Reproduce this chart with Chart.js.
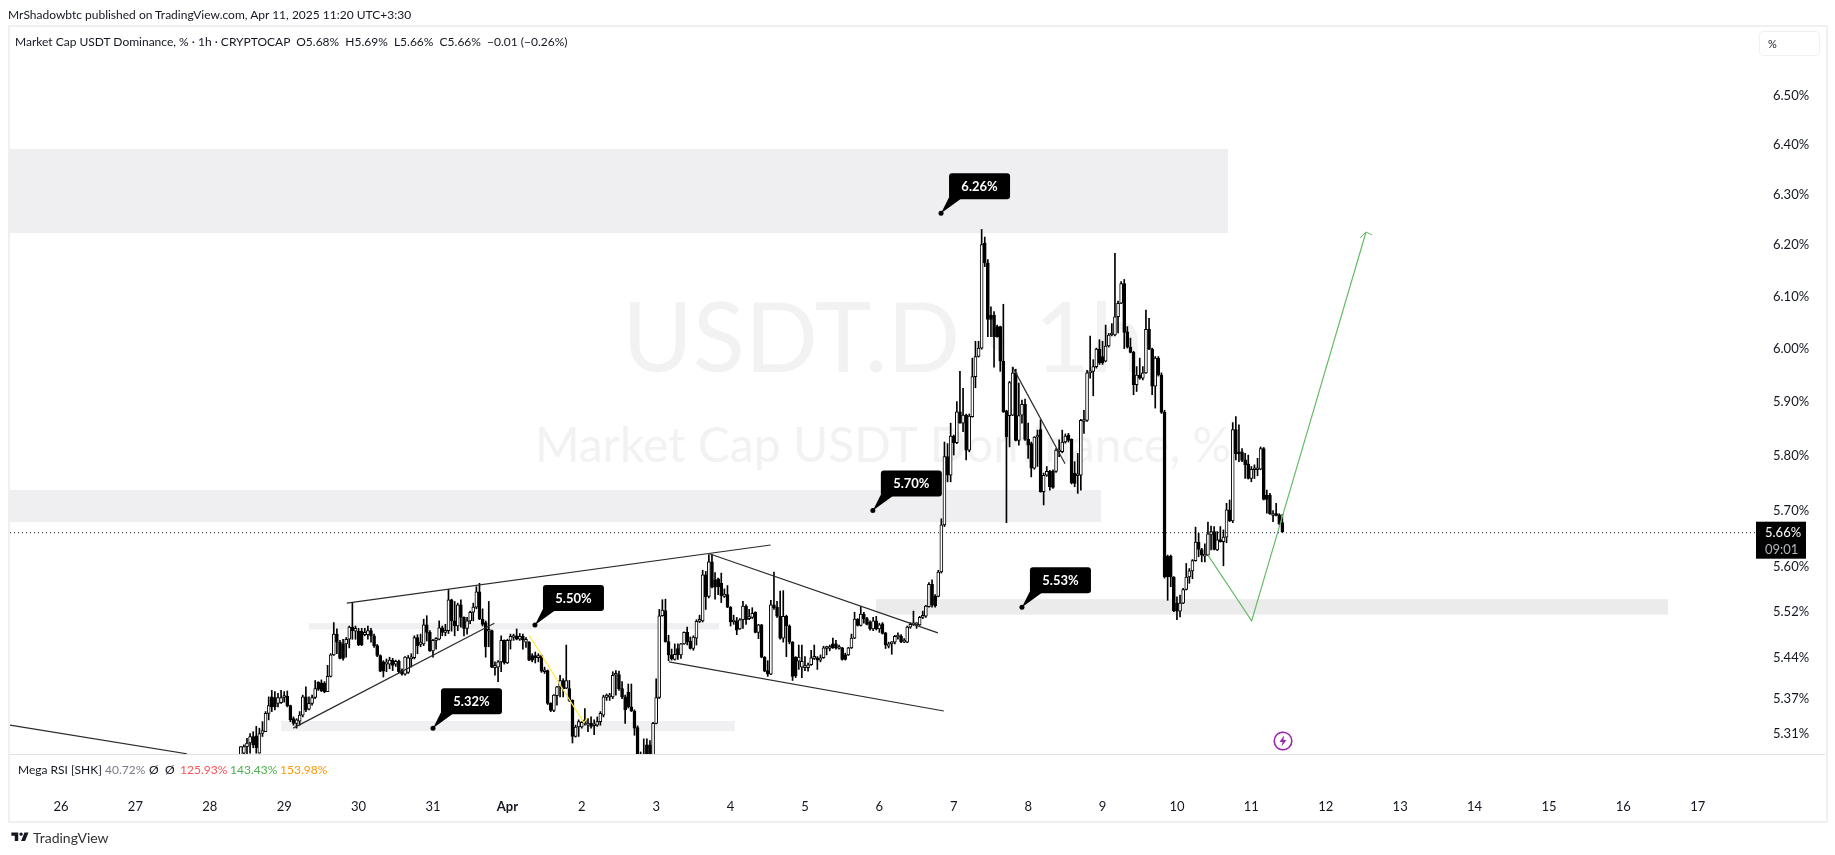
<!DOCTYPE html>
<html>
<head>
<meta charset="utf-8">
<title>USDT.D</title>
<script src="https://cdn.jsdelivr.net/npm/chart.js@4"></script>
<style>
    html, body { margin: 0; padding: 0; background: #fff; overflow: hidden; }
    body { width: 1835px; height: 855px; position: relative; font-family: "Lato", sans-serif; color: #131722; }
    canvas { position: absolute; left: 0; top: 0; }
    .txt { position: absolute; white-space: pre; font-size: 12px; line-height: 14px; }
    .frame { position: absolute; left: 8px; top: 25px; width: 1816px; height: 794px; border: 2px solid #f0f0f3; }
    .sep { position: absolute; left: 10px; top: 754px; width: 1815px; height: 1px; background: #e0e0e8; }
    .unit { position: absolute; left: 1759px; top: 31px; width: 61px; height: 25px; border: 1px solid #f0f0f3; border-radius: 4px; box-sizing: border-box; }
</style>
</head>
<body>
<canvas id="chart" width="1835" height="855"></canvas>
<div class="frame"></div>
<div class="sep"></div>
<div class="unit"></div>
<div class="txt" style="left:8px;top:8px">MrShadowbtc published on TradingView.com, Apr 11, 2025 11:20 UTC+3:30</div>
<div class="txt" style="left:15px;top:35px">Market Cap USDT Dominance, % · 1h · CRYPTOCAP  O5.68%  H5.69%  L5.66%  C5.66%  −0.01 (−0.26%)</div>
<div class="txt" style="left:1768px;top:37px;font-size:11px">%</div>
<div class="txt" style="left:18px;top:763px">Mega RSI [SHK]</div>
<div class="txt" style="left:105px;top:763px;color:#787b86">40.72%</div>
<div class="txt" style="left:149px;top:763px">Ø</div>
<div class="txt" style="left:165px;top:763px">Ø</div>
<div class="txt" style="left:180px;top:763px;color:#ff5252">125.93%</div>
<div class="txt" style="left:230px;top:763px;color:#4caf50">143.43%</div>
<div class="txt" style="left:280px;top:763px;color:#ff9800">153.98%</div>
<svg style="position:absolute;left:10px;top:829px" width="21" height="16" viewBox="0 0 36 28">
    <path fill="#131722" d="M14 6H2v6h6v9h6V6Zm12 15h-7l6-15h7l-6 15Zm-7-9a3 3 0 1 0 0-6 3 3 0 0 0 0 6Z"/>
</svg>
<div class="txt" style="left:33px;top:830px;font-size:14px;line-height:16px;color:#333">TradingView</div>
<svg style="position:absolute;left:1273px;top:731px" width="20" height="20" viewBox="0 0 20 20">
    <circle cx="10" cy="10" r="8.8" fill="#fff" stroke="#9c27b0" stroke-width="1.6"/>
    <path fill="#9c27b0" d="M11 4.5 6.5 11h3l-1 4.5L13.5 9h-3Z"/>
</svg>
<script>
    // candles start at this hour, counted from 26 Mar 00:00
    const firstCandleHour = 58;

    const candleOpens = [
        5.267,5.278,5.289,5.295,5.306,5.307,5.278,5.311,5.314,5.345,
        5.373,5.372,5.362,5.363,5.372,5.374,5.358,5.336,5.328,5.332,
        5.342,5.373,5.352,5.362,5.372,5.398,5.397,5.396,5.382,5.408,
        5.445,5.481,5.467,5.464,5.464,5.472,5.493,5.486,5.486,5.486,
        5.480,5.480,5.487,5.478,5.461,5.444,5.433,5.429,5.429,5.436,
        5.429,5.434,5.418,5.412,5.415,5.438,5.440,5.475,5.463,5.464,
        5.497,5.484,5.452,5.470,5.472,5.492,5.484,5.487,5.541,5.504,
        5.495,5.532,5.510,5.491,5.504,5.519,5.528,5.555,5.507,5.501,
        5.486,5.487,5.423,5.424,5.433,5.470,5.431,5.470,5.475,5.478,
        5.472,5.477,5.467,5.467,5.444,5.444,5.440,5.444,5.416,5.418,
        5.362,5.350,5.375,5.390,5.401,5.388,5.387,5.367,5.306,5.322,
        5.322,5.334,5.325,5.328,5.324,5.325,5.331,5.342,5.372,5.373,
        5.373,5.410,5.411,5.387,5.373,
        5.381,5.356,5.349,5.321,5.275,5.259,5.292,5.292,5.270,5.328,
        5.372,5.513,5.522,5.468,5.445,5.437,5.456,5.445,5.464,5.484,
        5.469,5.456,5.474,5.503,5.504,5.585,5.547,5.608,5.576,5.578,
        5.570,5.547,5.550,5.528,5.502,5.504,5.490,5.506,5.530,5.508,
        5.510,5.519,5.484,5.497,5.441,5.418,5.412,5.532,5.528,5.512,
        5.474,5.512,5.495,5.467,5.441,5.434,5.424,5.423,5.423,5.428,
        5.439,5.440,5.436,5.440,5.456,5.456,5.464,5.464,5.456,5.457,
        5.445,5.445,5.457,5.474,5.507,5.496,5.516,5.508,5.502,5.490,
        5.504,5.490,5.499,5.483,5.460,5.464,5.467,5.476,5.477,5.467,
        5.467,5.493,5.497,5.497,5.497,5.510,5.512,5.529,5.568,5.547,
        5.547,5.590,
        5.674,5.798,5.764,5.836,5.824,5.881,5.860,5.875,5.810,5.872,
        5.947,5.985,6.001,6.204,6.165,6.064,6.064,6.042,6.042,5.976,
        5.883,5.874,5.875,5.954,5.828,5.875,5.895,5.830,5.822,5.777,
        5.834,5.848,5.734,5.764,5.771,5.771,5.771,5.807,5.807,5.825,
        5.838,5.830,5.768,5.763,5.764,5.863,5.865,5.954,5.957,5.966,
        5.999,5.985,5.976,6.005,6.026,6.026,6.061,6.087,6.125,6.032,
        6.003,5.993,5.932,5.950,5.944,5.954,6.037,5.999,5.929,5.982,
        5.950,
        5.880,5.618,5.618,5.581,5.535,5.521,5.535,5.559,5.581,5.592,
        5.610,5.643,5.630,5.618,5.620,5.656,5.662,5.629,5.647,5.644,
        5.652,5.701,5.681,5.848,5.807,5.807,5.792,5.785,5.758,5.774,
        5.774,5.775,5.813,5.728,5.728,5.691,5.692,5.692,5.678
    ];
    const candleHighs = [
        5.289,5.292,5.303,5.311,5.314,5.323,5.320,5.331,5.348,5.373,
        5.384,5.382,5.379,5.384,5.382,5.383,5.359,5.339,5.336,5.348,
        5.376,5.390,5.373,5.376,5.401,5.399,5.402,5.399,5.427,5.447,
        5.501,5.490,5.470,5.472,5.475,5.495,5.535,5.495,5.491,5.491,
        5.491,5.495,5.491,5.481,5.463,5.445,5.435,5.438,5.441,5.439,
        5.436,5.436,5.421,5.442,5.444,5.447,5.478,5.480,5.481,5.507,
        5.513,5.487,5.472,5.475,5.504,5.495,5.498,5.559,5.542,5.538,
        5.535,5.541,5.511,5.510,5.521,5.535,5.564,5.570,5.525,5.504,
        5.538,5.488,5.433,5.435,5.478,5.471,5.472,5.481,5.481,5.490,
        5.482,5.481,5.475,5.468,5.447,5.450,5.447,5.445,5.424,5.419,
        5.363,5.377,5.391,5.410,5.404,5.462,5.401,5.368,5.325,5.334,
        5.331,5.353,5.336,5.339,5.334,5.339,5.348,5.376,5.378,5.379,
        5.416,5.418,5.417,5.399,5.376,
        5.395,5.395,5.351,5.324,5.280,5.302,5.302,5.299,5.330,5.404,
        5.524,5.541,5.542,5.479,5.455,5.464,5.464,5.465,5.485,5.493,
        5.476,5.478,5.506,5.514,5.593,5.591,5.621,5.621,5.589,5.579,
        5.588,5.560,5.566,5.529,5.514,5.510,5.508,5.538,5.532,5.524,
        5.527,5.520,5.498,5.498,5.442,5.435,5.540,5.590,5.538,5.556,
        5.557,5.514,5.497,5.468,5.442,5.462,5.462,5.442,5.431,5.453,
        5.462,5.442,5.445,5.460,5.460,5.462,5.474,5.470,5.462,5.458,
        5.448,5.458,5.481,5.519,5.508,5.529,5.519,5.510,5.504,5.510,
        5.512,5.500,5.501,5.484,5.467,5.468,5.479,5.483,5.480,5.473,
        5.495,5.501,5.521,5.501,5.512,5.521,5.531,5.571,5.576,5.550,
        5.593,5.685,
        5.825,5.822,5.860,5.838,5.900,5.957,5.925,5.877,5.877,5.982,
        6.014,6.014,6.231,6.216,6.172,6.080,6.071,6.045,6.043,6.085,
        5.884,5.938,5.965,5.961,5.935,5.903,5.905,5.860,5.825,5.835,
        5.847,5.866,5.768,5.780,5.773,5.774,5.813,5.829,5.847,5.840,
        5.841,5.831,5.789,5.804,5.867,5.884,5.959,6.024,5.979,6.001,
        6.017,6.014,6.045,6.029,6.048,6.184,6.091,6.129,6.133,6.042,
        6.020,5.995,5.966,5.982,5.966,6.074,6.058,6.001,5.985,5.985,
        5.954,
        5.884,5.620,5.620,5.582,5.546,5.549,5.561,5.605,5.596,5.612,
        5.670,5.659,5.632,5.640,5.679,5.672,5.671,5.662,5.671,5.665,
        5.713,5.719,5.861,5.872,5.857,5.813,5.804,5.801,5.780,5.783,
        5.795,5.816,5.815,5.737,5.731,5.700,5.713,5.694,5.693
    ];
    const candleLows = [
        5.261,5.261,5.272,5.278,5.287,5.278,5.278,5.306,5.314,5.334,
        5.348,5.351,5.356,5.362,5.364,5.356,5.331,5.325,5.320,5.325,
        5.339,5.348,5.351,5.359,5.370,5.384,5.382,5.380,5.382,5.407,
        5.444,5.447,5.438,5.436,5.441,5.457,5.472,5.472,5.461,5.461,
        5.478,5.472,5.467,5.458,5.442,5.416,5.407,5.416,5.421,5.418,
        5.425,5.414,5.410,5.410,5.413,5.424,5.438,5.447,5.459,5.461,
        5.469,5.451,5.441,5.455,5.471,5.478,5.478,5.482,5.486,5.478,
        5.487,5.493,5.478,5.481,5.499,5.504,5.525,5.506,5.495,5.441,
        5.459,5.423,5.410,5.399,5.416,5.429,5.430,5.455,5.470,5.471,
        5.470,5.455,5.458,5.435,5.433,5.431,5.433,5.415,5.413,5.360,
        5.348,5.348,5.359,5.373,5.373,5.387,5.365,5.295,5.305,5.306,
        5.320,5.325,5.314,5.320,5.309,5.323,5.325,5.339,5.367,5.367,
        5.370,5.376,5.384,5.370,5.328,
        5.354,5.348,5.308,5.270,5.248,5.256,5.270,5.264,5.268,5.327,
        5.370,5.512,5.467,5.435,5.436,5.436,5.437,5.439,5.463,5.462,
        5.455,5.453,5.462,5.501,5.502,5.524,5.544,5.562,5.542,5.550,
        5.536,5.545,5.527,5.495,5.498,5.480,5.489,5.491,5.498,5.506,
        5.508,5.483,5.473,5.440,5.416,5.408,5.411,5.524,5.510,5.472,
        5.467,5.442,5.464,5.401,5.406,5.420,5.406,5.418,5.417,5.427,
        5.437,5.420,5.433,5.439,5.445,5.452,5.456,5.455,5.455,5.436,
        5.436,5.444,5.456,5.473,5.495,5.495,5.500,5.497,5.488,5.487,
        5.488,5.484,5.481,5.456,5.457,5.446,5.464,5.472,5.466,5.466,
        5.466,5.491,5.496,5.491,5.496,5.508,5.510,5.528,5.528,5.528,
        5.546,5.588,
        5.671,5.752,5.752,5.801,5.822,5.860,5.844,5.792,5.807,5.871,
        5.926,5.984,5.999,6.158,6.023,6.023,5.965,6.022,5.957,5.880,
        5.678,5.816,5.874,5.827,5.819,5.860,5.828,5.795,5.761,5.775,
        5.780,5.733,5.710,5.762,5.737,5.740,5.769,5.798,5.805,5.823,
        5.825,5.748,5.743,5.731,5.737,5.841,5.863,5.944,5.911,5.963,
        5.970,5.970,5.975,6.003,6.024,6.024,6.030,6.086,6.000,6.001,
        5.992,5.913,5.919,5.942,5.941,5.953,5.998,5.913,5.888,5.948,
        5.878,
        5.579,5.540,5.564,5.520,5.506,5.511,5.534,5.558,5.570,5.578,
        5.609,5.617,5.608,5.608,5.619,5.629,5.629,5.628,5.643,5.601,
        5.642,5.680,5.678,5.792,5.789,5.789,5.758,5.757,5.752,5.758,
        5.763,5.774,5.719,5.695,5.693,5.680,5.690,5.674,5.660
    ];
    const candleCloses = [
        5.289,5.289,5.295,5.306,5.292,5.287,5.311,5.316,5.345,5.358,
        5.356,5.356,5.372,5.372,5.374,5.358,5.334,5.328,5.334,5.342,
        5.373,5.351,5.362,5.372,5.387,5.386,5.383,5.382,5.408,5.445,
        5.481,5.467,5.439,5.439,5.472,5.493,5.487,5.491,5.462,5.462,
        5.484,5.487,5.478,5.461,5.444,5.417,5.417,5.433,5.436,5.427,
        5.434,5.416,5.412,5.441,5.440,5.441,5.475,5.461,5.467,5.497,
        5.484,5.452,5.470,5.472,5.492,5.484,5.487,5.541,5.504,5.495,
        5.532,5.510,5.491,5.504,5.519,5.528,5.555,5.507,5.498,5.459,
        5.487,5.424,5.427,5.433,5.470,5.431,5.470,5.477,5.478,5.472,
        5.477,5.471,5.472,5.436,5.436,5.440,5.444,5.417,5.418,5.362,
        5.350,5.376,5.390,5.401,5.387,5.401,5.367,5.306,5.322,5.331,
        5.330,5.328,5.328,5.323,5.327,5.331,5.345,5.373,5.376,5.376,
        5.410,5.411,5.387,5.373,5.351,
        5.356,5.349,5.320,5.275,5.259,5.275,5.275,5.270,5.328,5.372,
        5.513,5.523,5.468,5.445,5.438,5.446,5.445,5.464,5.484,5.468,
        5.456,5.476,5.503,5.506,5.585,5.546,5.608,5.563,5.563,5.564,
        5.548,5.551,5.528,5.502,5.504,5.488,5.506,5.530,5.506,5.510,
        5.517,5.484,5.497,5.441,5.417,5.412,5.532,5.527,5.512,5.474,
        5.512,5.495,5.467,5.408,5.409,5.441,5.434,5.425,5.428,5.440,
        5.440,5.436,5.440,5.457,5.457,5.457,5.457,5.457,5.457,5.437,
        5.437,5.457,5.474,5.507,5.496,5.516,5.508,5.498,5.490,5.504,
        5.490,5.497,5.482,5.462,5.464,5.467,5.477,5.478,5.468,5.468,
        5.493,5.498,5.499,5.498,5.510,5.512,5.530,5.568,5.532,5.530,
        5.590,5.674,
        5.798,5.764,5.836,5.824,5.881,5.860,5.875,5.810,5.873,5.947,
        5.985,6.001,6.201,6.165,6.056,6.056,6.023,6.023,5.976,5.881,
        5.835,5.936,5.954,5.828,5.874,5.895,5.830,5.819,5.777,5.834,
        5.835,5.734,5.764,5.771,5.743,5.742,5.810,5.810,5.825,5.836,
        5.828,5.750,5.749,5.764,5.865,5.865,5.954,5.957,5.966,5.999,
        5.973,5.973,6.005,6.026,6.028,6.061,6.087,6.125,6.031,6.003,
        5.993,5.932,5.950,5.944,5.954,6.037,5.999,5.929,5.982,5.950,
        5.880,
        5.581,5.581,5.581,5.522,5.521,5.535,5.559,5.581,5.592,5.610,
        5.643,5.630,5.620,5.620,5.658,5.662,5.630,5.647,5.644,5.652,
        5.701,5.681,5.848,5.803,5.803,5.791,5.783,5.758,5.775,5.776,
        5.775,5.813,5.720,5.720,5.694,5.694,5.691,5.676,5.662
    ];

    const priceTicks = [6.5, 6.4, 6.3, 6.2, 6.1, 6.0, 5.9, 5.8, 5.7, 5.6, 5.52, 5.44, 5.37, 5.31];
    const priceTickLabels = ["6.50%", "6.40%", "6.30%", "6.20%", "6.10%", "6.00%", "5.90%", "5.80%", "5.70%", "5.60%", "5.52%", "5.44%", "5.37%", "5.31%"];
    const dayLabels = ["26", "27", "28", "29", "30", "31", "Apr", "2", "3", "4", "5", "6", "7", "8", "9", "10", "11", "12", "13", "14", "15", "16", "17"];
    const dayTickHours = [0, 24, 48, 72, 96, 120, 144, 168, 192, 216, 240, 264, 288, 312, 336, 360, 384, 408, 432, 456, 480, 504, 528];

    const hourMin = -16.45;
    const hourMax = 546.8;
    const priceMin = 5.2766;
    const priceMax = 6.646;
    const lastPrice = 5.66;

    // grey supply / demand boxes
    const zoneStartHours = [-16.45, -16.45, 262.9, 80, 71];
    const zoneEndHours = [376.5, 335.5, 518.4, 212.3, 217.4];
    const zoneTops = [6.392, 5.737, 5.542, 5.5, 5.332];
    const zoneBottoms = [6.224, 5.679, 5.515, 5.489, 5.315];
    const zoneColors = ["#efeff1", "#efeff1", "#ebebeb", "#f0f0f2", "#f0f0f2"];

    // drawn trend lines, [hour, price] pairs
    const blackLines = [
        [[-16.45, 5.325], [40.6, 5.277]],
        [[92.2, 5.535], [228.9, 5.638]],
        [[74.9, 5.32], [139.8, 5.5]],
        [[209.4, 5.622], [282.9, 5.483]],
        [[196.1, 5.433], [284.8, 5.349]],
        [[307, 5.965], [323.9, 5.785]]
    ];
    const yellowLine = [[151, 5.479], [168.7, 5.329], [169.7, 5.337]];
    const greenLine = [[370, 5.62], [384.1, 5.504], [421, 6.226]];

    // price callouts
    const calloutHours = [283.9, 261.9, 310, 152.9, 120];
    const calloutPrices = [6.263, 5.7, 5.528, 5.497, 5.32];
    const calloutLabels = ["6.26%", "5.70%", "5.53%", "5.50%", "5.32%"];

    const uiFont = "Lato, sans-serif";

    let wickData = candleOpens.map((o, i) => ({ x: firstCandleHour + i, y: [candleLows[i], candleHighs[i]] }));
    let bodyData = candleOpens.map((o, i) => ({ x: firstCandleHour + i, y: [o, candleCloses[i]] }));
    let bodyColors = candleOpens.map((o, i) => (candleCloses[i] >= o ? "#ffffff" : "#000000"));

    function lineDataset(points, color, width, dash) {
        return {
            type: "line",
            data: points.map(([x, y]) => ({ x, y })),
            borderColor: color,
            borderWidth: width,
            borderDash: dash || [],
            pointRadius: 0,
            tension: 0,
            order: 0,
        };
    }

    function roundedBox(ctx, x, y, w, h, r) {
        ctx.beginPath();
        ctx.roundRect(x, y, w, h, r);
        ctx.fill();
    }

    const backdropPlugin = {
        id: "backdrop",
        beforeDatasetsDraw(chart) {
            let { ctx, chartArea, scales } = chart;
            ctx.save();
            ctx.beginPath();
            ctx.rect(chartArea.left, chartArea.top, chartArea.width, chartArea.height);
            ctx.clip();

            ctx.fillStyle = "#f2f2f3";
            ctx.textAlign = "center";
            ctx.textBaseline = "middle";
            ctx.font = "96px " + uiFont;
            ctx.fillText("USDT.D · 1h", 883, 341);
            ctx.font = "48px " + uiFont;
            ctx.fillText("Market Cap USDT Dominance, %", 883, 447);

            zoneStartHours.forEach((start, i) => {
                let x1 = scales.x.getPixelForValue(start);
                let x2 = scales.x.getPixelForValue(zoneEndHours[i]);
                let y1 = scales.y.getPixelForValue(zoneTops[i]);
                let y2 = scales.y.getPixelForValue(zoneBottoms[i]);
                ctx.fillStyle = zoneColors[i];
                ctx.fillRect(x1, y1, x2 - x1, y2 - y1);
            });
            ctx.restore();
        },
    };

    const overlayPlugin = {
        id: "overlay",
        afterDraw(chart) {
            let { ctx, scales } = chart;
            ctx.save();

            // arrow head on the green projection
            let tip = greenLine[greenLine.length - 1];
            let tipX = scales.x.getPixelForValue(tip[0]);
            let tipY = scales.y.getPixelForValue(tip[1]);
            ctx.strokeStyle = "#66bb6a";
            ctx.lineWidth = 1;
            ctx.beginPath();
            ctx.moveTo(tipX - 6, tipY + 6);
            ctx.lineTo(tipX, tipY);
            ctx.lineTo(tipX + 6, tipY + 3);
            ctx.stroke();

            // callouts
            calloutLabels.forEach((label, i) => {
                let x = scales.x.getPixelForValue(calloutHours[i]);
                let y = scales.y.getPixelForValue(calloutPrices[i]);
                ctx.fillStyle = "#000";
                ctx.beginPath();
                ctx.arc(x, y, 2.5, 0, Math.PI * 2);
                ctx.fill();
                ctx.beginPath();
                ctx.moveTo(x, y);
                ctx.lineTo(x + 8, y - 16);
                ctx.lineTo(x + 22, y - 16);
                ctx.closePath();
                ctx.fill();
                roundedBox(ctx, x + 8, y - 40, 61, 26, 3);
                ctx.fillStyle = "#fff";
                ctx.font = "bold 13px " + uiFont;
                ctx.textAlign = "center";
                ctx.textBaseline = "middle";
                ctx.fillText(label, x + 38.5, y - 26.5);
            });

            // last price tag on the axis
            let tagY = scales.y.getPixelForValue(lastPrice);
            ctx.fillStyle = "#000";
            ctx.fillRect(1756, tagY - 11, 50, 37);
            ctx.textAlign = "left";
            ctx.textBaseline = "middle";
            ctx.font = "13px " + uiFont;
            ctx.fillStyle = "#fff";
            ctx.fillText("5.66%", 1765, tagY);
            ctx.fillStyle = "#b2b5be";
            ctx.fillText("09:01", 1765, tagY + 17);
            ctx.restore();
        },
    };

    new Chart(document.getElementById("chart"), {
        type: "bar",
        plugins: [backdropPlugin, overlayPlugin],
        data: {
            datasets: [
                lineDataset([[hourMin, lastPrice], [hourMax, lastPrice]], "#131722", 1, [1, 3]),
                ...blackLines.map((points) => lineDataset(points, "#2a2a2a", 1.2)),
                lineDataset(yellowLine, "#ffeb3b", 1.2),
                lineDataset(greenLine, "#66bb6a", 1.2),
                {
                    data: bodyData,
                    backgroundColor: bodyColors,
                    borderColor: "#000000",
                    borderWidth: 1,
                    borderSkipped: false,
                    barThickness: 3,
                    minBarLength: 2,
                    grouped: false,
                    order: 1,
                },
                {
                    data: wickData,
                    backgroundColor: "#000000",
                    borderWidth: 0,
                    barThickness: 1,
                    grouped: false,
                    order: 2,
                },
            ],
        },
        options: {
            responsive: false,
            animation: false,
            devicePixelRatio: 1,
            layout: { padding: { left: 10, top: 26, right: 10, bottom: 35 } },
            plugins: { legend: { display: false }, tooltip: { enabled: false }, title: { display: false } },
            scales: {
                x: {
                    type: "linear",
                    offset: false,
                    min: hourMin,
                    max: hourMax,
                    grid: { display: false },
                    border: { display: false },
                    afterBuildTicks(scale) {
                        scale.ticks = dayTickHours.map((value) => ({ value }));
                    },
                    afterFit(scale) {
                        scale.height = 66;
                    },
                    ticks: {
                        autoSkip: false,
                        maxRotation: 0,
                        padding: 37,
                        color: "#131722",
                        font: (ctx) => ({
                            family: uiFont,
                            size: 13,
                            weight: dayLabels[ctx.index] === "Apr" ? "bold" : "normal",
                        }),
                        callback: (value, i) => dayLabels[i],
                    },
                },
                y: {
                    type: "logarithmic",
                    position: "right",
                    min: priceMin,
                    max: priceMax,
                    grid: { display: false },
                    border: { display: false },
                    afterBuildTicks(scale) {
                        scale.ticks = priceTicks.map((value) => ({ value }));
                    },
                    afterFit(scale) {
                        scale.width = 69;
                    },
                    ticks: {
                        autoSkip: false,
                        padding: 9,
                        color: "#131722",
                        font: { family: uiFont, size: 13 },
                        callback: (value, i) => priceTickLabels[i],
                    },
                },
            },
        },
    });
</script>
</body>
</html>
